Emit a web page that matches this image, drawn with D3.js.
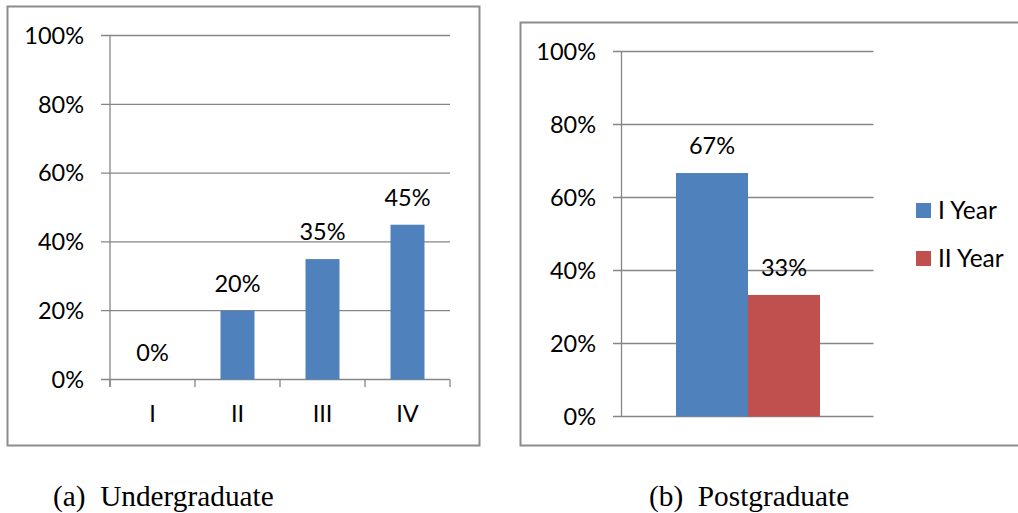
<!DOCTYPE html>
<html><head><meta charset="utf-8">
<script src="https://cdn.jsdelivr.net/npm/d3@7"></script>
<style>body{margin:0;background:#fff;} svg{display:block;}</style>
</head><body>
<svg id="c" width="1018" height="513"></svg>
<script>
const ugCategories = ["I","II","III","IV"];
const ugValues = [0, 0.20, 0.35, 0.45];
const ugLabels = ["0%","20%","35%","45%"];
const pgSeries = ["I Year","II Year"];
const pgValues = [0.667, 0.333];
const pgLabels = ["67%","33%"];
const pgColors = ["#4F81BD","#C0504D"];
const yTicks = [0,0.2,0.4,0.6,0.8,1.0];
const captions = ["(a)  Undergraduate","(b)  Postgraduate"];

const svg = d3.select("#c");
const font = "Lato, Carlito, 'Open Sans', sans-serif";
const fs = 23.5;
const gridColor = "#868686";
const fmt = d3.format(".0%");

// frames
svg.append("rect").attr("x",7.5).attr("y",6.5).attr("width",472).attr("height",439)
  .attr("fill","none").attr("stroke","#8c8c8c").attr("stroke-width",2);
svg.append("rect").attr("x",520.5).attr("y",22.5).attr("width",500).attr("height",423)
  .attr("fill","none").attr("stroke","#8c8c8c").attr("stroke-width",2);

// ---------- Left chart ----------
{
  const x = d3.scaleBand().domain(ugCategories).range([110,450]).paddingInner(0.6).paddingOuter(0.3);
  const y = d3.scaleLinear().domain([0,1]).range([379.5,35.5]);
  const g = svg.append("g");
  g.selectAll("line.grid").data(yTicks).join("line")
    .attr("x1",101).attr("x2",450).attr("y1",d=>y(d)).attr("y2",d=>y(d))
    .attr("stroke",gridColor).attr("stroke-width",1.3);
  g.append("line").attr("x1",110).attr("x2",110).attr("y1",y(1)).attr("y2",387)
    .attr("stroke",gridColor).attr("stroke-width",1.3);
  const bounds = d3.range(ugCategories.length+1).map(i=>110 + i*(340/ugCategories.length));
  g.selectAll("line.ct").data(bounds).join("line")
    .attr("x1",d=>d).attr("x2",d=>d).attr("y1",y(0)).attr("y2",387)
    .attr("stroke",gridColor).attr("stroke-width",1.3);
  g.selectAll("text.yl").data(yTicks).join("text")
    .attr("x",84).attr("y",d=>y(d)).attr("dy","0.35em").attr("text-anchor","end")
    .attr("font-family",font).attr("font-size",fs).attr("fill","#000").text(d=>fmt(d));
  g.selectAll("rect.bar").data(ugValues).join("rect")
    .attr("x",(d,i)=>x(ugCategories[i])).attr("width",x.bandwidth())
    .attr("y",d=>y(d)).attr("height",d=>y(0)-y(d)).attr("fill","#4F81BD");
  g.selectAll("text.vl").data(ugValues).join("text")
    .attr("x",(d,i)=>x(ugCategories[i])+x.bandwidth()/2).attr("y",d=>y(d)-19)
    .attr("text-anchor","middle").attr("font-family",font).attr("font-size",fs).attr("fill","#000")
    .text((d,i)=>ugLabels[i]);
  g.selectAll("text.cl").data(ugCategories).join("text")
    .attr("x",d=>x(d)+x.bandwidth()/2).attr("y",414).attr("dy","0.35em")
    .attr("text-anchor","middle").attr("font-family",font).attr("font-size",fs).attr("fill","#000")
    .text(d=>d);
}

// ---------- Right chart ----------
{
  const x = d3.scaleBand().domain(pgSeries).range([676,820]).paddingInner(0);
  const y = d3.scaleLinear().domain([0,1]).range([416.5,51.5]);
  const g = svg.append("g");
  g.selectAll("line.grid").data(yTicks).join("line")
    .attr("x1",613).attr("x2",873.5).attr("y1",d=>y(d)).attr("y2",d=>y(d))
    .attr("stroke",gridColor).attr("stroke-width",1.3);
  g.append("line").attr("x1",621.5).attr("x2",621.5).attr("y1",y(1)).attr("y2",y(0))
    .attr("stroke",gridColor).attr("stroke-width",1.3);
  g.selectAll("text.yl").data(yTicks).join("text")
    .attr("x",596).attr("y",d=>y(d)).attr("dy","0.35em").attr("text-anchor","end")
    .attr("font-family",font).attr("font-size",fs).attr("fill","#000").text(d=>fmt(d));
  g.selectAll("rect.bar").data(pgValues).join("rect")
    .attr("x",(d,i)=>x(pgSeries[i])).attr("width",x.bandwidth())
    .attr("y",d=>y(d)).attr("height",d=>y(0)-y(d)).attr("fill",(d,i)=>pgColors[i]);
  g.selectAll("text.vl").data(pgValues).join("text")
    .attr("x",(d,i)=>x(pgSeries[i])+x.bandwidth()/2).attr("y",d=>y(d)-19)
    .attr("text-anchor","middle").attr("font-family",font).attr("font-size",fs).attr("fill","#000")
    .text((d,i)=>pgLabels[i]);
  const lg = g.selectAll("g.lg").data(pgSeries).join("g")
    .attr("transform",(d,i)=>`translate(916,${203 + i*48})`);
  lg.append("rect").attr("width",15).attr("height",15).attr("fill",(d,i)=>pgColors[i]);
  lg.append("text").attr("x",22).attr("y",7.5).attr("dy","0.35em")
    .attr("font-family",font).attr("font-size",24.5).attr("fill","#000").text(d=>d);
}

// captions
svg.selectAll("text.cap").data(captions).join("text")
  .attr("x",(d,i)=>i===0?53:649).attr("y",505.5)
  .attr("font-family","'Liberation Serif','Times New Roman',serif").attr("font-size",29.3)
  .attr("fill","#000").attr("xml:space","preserve").style("white-space","pre").text(d=>d);
</script>
</body></html>
